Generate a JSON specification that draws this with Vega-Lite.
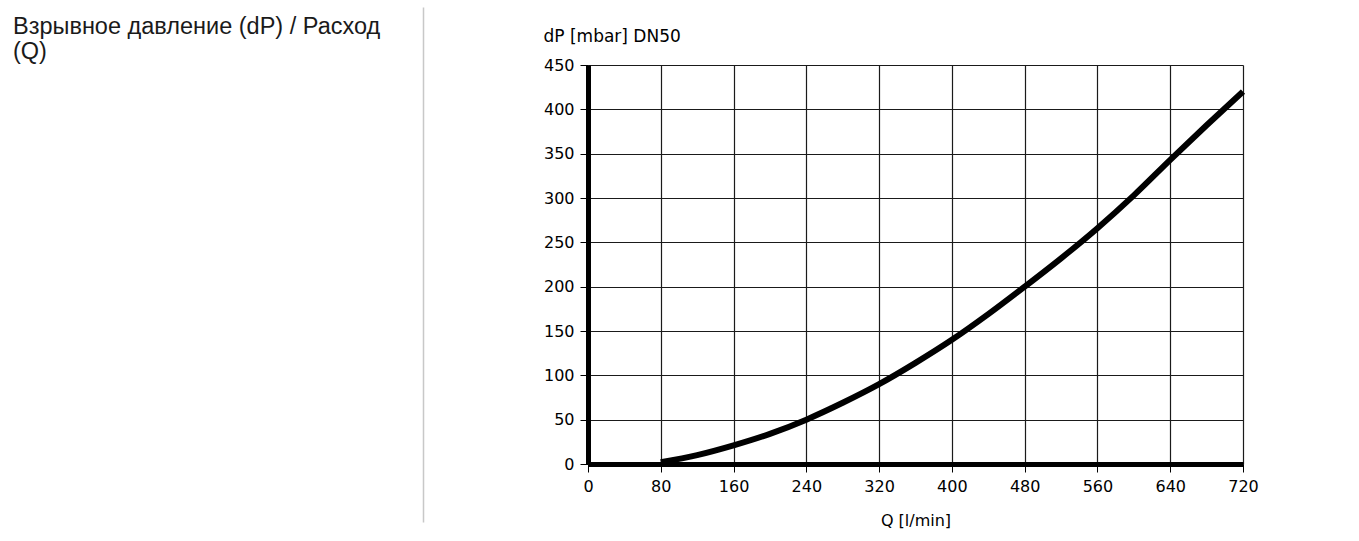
{
  "$schema": "https://vega.github.io/schema/vega-lite/v6.json",
  "background": "white",
  "padding": {"left": 13, "top": 7, "right": 5, "bottom": 5},
  "bounds": "flush",
  "center": true,
  "spacing": 165,
  "config": {
    "view": {"stroke": null},
    "font": "DejaVu Sans"
  },
  "hconcat": [
    {
      "width": 410,
      "height": 515,
      "data": {"values": [{"heading": "Взрывное давление (dP) / Расход\n(Q)"}]},
      "mark": {
        "type": "text",
        "align": "left",
        "baseline": "top",
        "font": "Liberation Sans",
        "fontSize": 23.5,
        "lineHeight": 25.5,
        "lineBreak": "\n",
        "color": "#1a1a1a",
        "dy": 7.5
      },
      "encoding": {
        "x": {"datum": 0, "type": "quantitative", "scale": {"domain": [0, 1]}, "axis": null},
        "y": {
          "datum": 1,
          "type": "quantitative",
          "scale": {"domain": [0, 1]},
          "axis": {
            "orient": "right",
            "domainColor": "#c8c8c8",
            "domainWidth": 1.5,
            "ticks": false,
            "labels": false,
            "grid": false,
            "title": null
          }
        },
        "text": {"field": "heading", "type": "nominal"}
      }
    },
    {
      "width": 655,
      "height": 399,
      "data": {
        "values": [
          {"Q": 80, "dP": 2},
          {"Q": 120, "dP": 10},
          {"Q": 160, "dP": 21},
          {"Q": 200, "dP": 34},
          {"Q": 240, "dP": 50},
          {"Q": 280, "dP": 69},
          {"Q": 320, "dP": 90},
          {"Q": 360, "dP": 114},
          {"Q": 400, "dP": 140},
          {"Q": 440, "dP": 169},
          {"Q": 480, "dP": 200},
          {"Q": 520, "dP": 232},
          {"Q": 560, "dP": 266},
          {"Q": 600, "dP": 303},
          {"Q": 640, "dP": 343},
          {"Q": 680, "dP": 382},
          {"Q": 720, "dP": 420}
        ]
      },
      "mark": {
        "type": "line",
        "color": "black",
        "strokeWidth": 6,
        "interpolate": "monotone",
        "strokeCap": "butt"
      },
      "encoding": {
        "x": {
          "field": "Q",
          "type": "quantitative",
          "scale": {"domain": [0, 720], "nice": false, "zero": false},
          "axis": {
            "values": [0, 80, 160, 240, 320, 400, 480, 560, 640, 720],
            "title": "Q [l/min]",
            "titleFont": "DejaVu Sans",
            "titleFontSize": 16,
            "titleFontWeight": "normal",
            "titleColor": "black",
            "titlePadding": 18,
            "labelFont": "DejaVu Sans",
            "labelFontSize": 16,
            "labelColor": "black",
            "labelPadding": 6,
            "labelFlush": false,
            "labelOverlap": false,
            "domainColor": "black",
            "domainWidth": 5,
            "tickColor": "black",
            "tickWidth": 1,
            "tickSize": 8,
            "grid": true,
            "gridColor": "#1a1a1a",
            "gridWidth": 1.2,
            "gridOpacity": 1
          }
        },
        "y": {
          "field": "dP",
          "type": "quantitative",
          "scale": {"domain": [0, 450], "nice": false, "zero": false},
          "axis": {
            "values": [0, 50, 100, 150, 200, 250, 300, 350, 400, 450],
            "title": "dP [mbar] DN50",
            "titleFont": "DejaVu Sans",
            "titleFontSize": 17,
            "titleFontWeight": "normal",
            "titleColor": "black",
            "titleAngle": 0,
            "titleAlign": "left",
            "titleBaseline": "alphabetic",
            "titleX": -45,
            "titleY": -24,
            "labelFont": "DejaVu Sans",
            "labelFontSize": 16,
            "labelColor": "black",
            "labelPadding": 6,
            "labelFlush": false,
            "labelOverlap": false,
            "labelBaseline": "middle",
            "domainColor": "black",
            "domainWidth": 5,
            "tickColor": "black",
            "tickWidth": 1,
            "tickSize": 8,
            "grid": true,
            "gridColor": "#1a1a1a",
            "gridWidth": 1.2,
            "gridOpacity": 1
          }
        }
      }
    }
  ]
}
